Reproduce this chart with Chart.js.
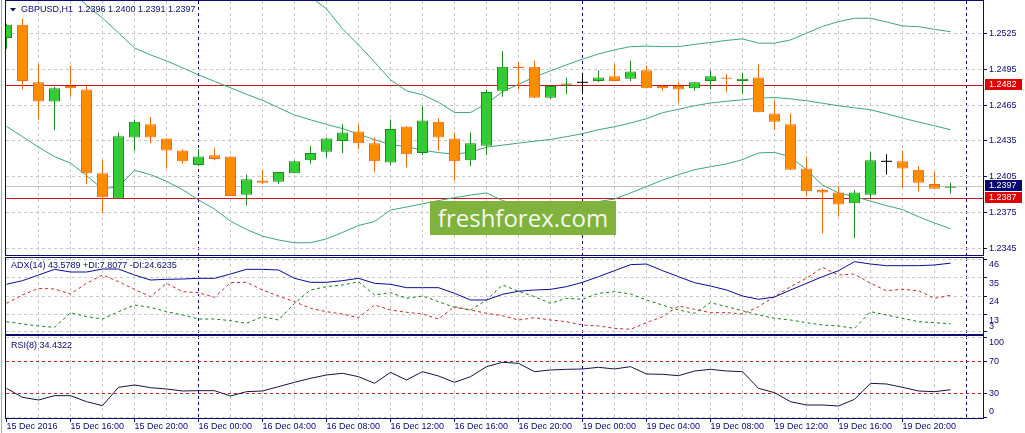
<!DOCTYPE html>
<html>
<head>
<meta charset="utf-8">
<title>GBPUSD H1</title>
<script src="https://cdn.jsdelivr.net/npm/chart.js@4.4.1/dist/chart.umd.min.js"></script>
<style>
  html, body { margin: 0; padding: 0; background: #fff; }
  body { position: relative; width: 1025px; height: 433px; overflow: hidden; }
  canvas { position: absolute; left: 0; }
  #edge { position: absolute; left: 1px; top: 0; width: 1px; height: 433px; background: #a8a8a8; }
  #wm { position: absolute; left: 430px; top: 201px; width: 186px; height: 34px;
        background: #80b23e; color: #f6f9f0; font: 24px "Open Sans", sans-serif;
        line-height: 33px; text-align: center; }
</style>
</head>
<body>
<div id="edge"></div>
<canvas id="priceChart" width="1025" height="257" style="top:0"></canvas>
<canvas id="adxChart" width="1025" height="80" style="top:256px"></canvas>
<canvas id="rsiChart" width="1025" height="98" style="top:335px"></canvas>
<div id="wm">freshforex.com</div>
<script>
// GBPUSD H1, 60 bars: 15 Dec 12:00 .. 19 Dec 23:00
const timeLabels = ['15 Dec 2016', '15 Dec 16:00', '15 Dec 20:00', '16 Dec 00:00', '16 Dec 04:00',
  '16 Dec 08:00', '16 Dec 12:00', '16 Dec 16:00', '16 Dec 20:00', '19 Dec 00:00', '19 Dec 04:00',
  '19 Dec 08:00', '19 Dec 12:00', '19 Dec 16:00', '19 Dec 20:00'];
const dayBreaks = [12, 36, 60];

const open = [1.2521,1.2532,1.2484,1.2468,1.2481,1.2478,1.2408,1.2387,1.2438,1.2449,
  1.2437,1.2427,1.2415,1.2423,1.2422,1.2390,1.2402,1.2401,1.2408,1.2419,
  1.2426,1.2435,1.2443,1.2433,1.2417,1.2447,1.2425,1.2451,1.2437,1.2419,
  1.2431,1.2477,1.2497,1.2497,1.2471,1.2482,1.2484,1.2485,1.2489,1.2487,
  1.2494,1.2481,1.2481,1.2479,1.2485,1.2488,1.2485,1.2488,1.2458,1.2449,
  1.2412,1.2394,1.2392,1.2383,1.2390,1.2418,1.2418,1.2411,1.2399,1.2396];
const high = [1.2533,1.2537,1.2499,1.2480,1.2498,1.2481,1.2419,1.2442,1.2453,1.2455,
  1.2437,1.2428,1.2428,1.2429,1.2422,1.2407,1.2411,1.2409,1.2419,1.2431,
  1.2438,1.2449,1.2449,1.2438,1.2453,1.2447,1.2464,1.2454,1.2442,1.2442,
  1.2478,1.2510,1.2501,1.2502,1.2481,1.2488,1.2492,1.2494,1.2499,1.2502,
  1.2498,1.2482,1.2484,1.2484,1.2494,1.2491,1.2492,1.2499,1.2469,1.2458,
  1.2422,1.2395,1.2397,1.2394,1.2426,1.2424,1.2427,1.2414,1.2409,1.2400];
const low = [1.2512,1.2478,1.2453,1.2444,1.2472,1.2399,1.2375,1.2387,1.2427,1.2433,
  1.2412,1.2416,1.2414,1.2419,1.2389,1.2381,1.2399,1.2399,1.2408,1.2416,
  1.2421,1.2425,1.2428,1.2409,1.2415,1.2413,1.2423,1.2427,1.2402,1.2414,
  1.2423,1.2472,1.2478,1.2471,1.2470,1.2474,1.2474,1.2484,1.2485,1.2485,
  1.2479,1.2477,1.2467,1.2477,1.2478,1.2476,1.2474,1.2459,1.2444,1.2411,
  1.2389,1.2358,1.2372,1.2354,1.2387,1.2407,1.2396,1.2393,1.2395,1.2391];
const close = [1.2532,1.2485,1.2468,1.2479,1.2479,1.2408,1.2388,1.2439,1.2451,1.2438,
  1.2427,1.2418,1.2422,1.2420,1.2389,1.2403,1.2400,1.2409,1.2418,1.2425,
  1.2437,1.2442,1.2433,1.2418,1.2445,1.2424,1.2452,1.2438,1.2418,1.2433,
  1.2476,1.2497,1.2496,1.2471,1.2481,1.2483,1.2484,1.2488,1.2485,1.2493,
  1.2479,1.2479,1.2478,1.2484,1.2489,1.2487,1.2487,1.2459,1.2451,1.2411,
  1.2393,1.2392,1.2382,1.2392,1.2419,1.2418,1.2412,1.2400,1.2395,1.2397];

// Bollinger bands
const bbUpper = [1.27668,1.2752,1.27374,1.27221,1.27041,1.26911,1.26806,1.26537,1.2615,1.26069,
  1.26025,1.25978,1.25948,1.25915,1.25908,1.25869,1.25825,1.25732,1.25633,1.25555,
  1.25453,1.25286,1.25153,1.2501,1.24861,1.24769,1.24736,1.24673,1.24588,1.24588,
  1.24661,1.24761,1.24823,1.24886,1.24936,1.24986,1.25033,1.25077,1.25111,1.25138,
  1.25142,1.25138,1.25138,1.25157,1.25173,1.2519,1.25203,1.25167,1.25167,1.25194,
  1.2525,1.25307,1.25347,1.25375,1.25375,1.25344,1.25311,1.25305,1.25282,1.25263];
const bbMid = [1.2607,1.25953,1.25836,1.2572,1.25603,1.25486,1.25377,1.25253,1.25127,1.25069,
  1.25019,1.24961,1.24902,1.24848,1.24794,1.2474,1.2469,1.24628,1.24567,1.24527,
  1.24488,1.24453,1.24407,1.24361,1.24319,1.24303,1.24273,1.24253,1.2424,1.24257,
  1.24298,1.24315,1.24332,1.24348,1.24363,1.24386,1.24411,1.24444,1.24469,1.245,
  1.24536,1.24586,1.24615,1.24644,1.24667,1.24682,1.24694,1.24708,1.24713,1.24702,
  1.24686,1.24665,1.24644,1.24627,1.24611,1.24577,1.24541,1.24508,1.24477,1.24444];
const bbLower = [1.24472,1.24386,1.24298,1.24219,1.24165,1.24061,1.23948,1.23969,1.24105,1.24069,
  1.24013,1.23944,1.23857,1.23782,1.2368,1.23611,1.23555,1.23523,1.235,1.235,
  1.23532,1.23586,1.23644,1.23677,1.23773,1.23798,1.23825,1.23852,1.23877,1.23898,
  1.23916,1.23852,1.23819,1.23794,1.23786,1.23794,1.2381,1.23844,1.23865,1.23916,
  1.23969,1.24023,1.24069,1.2411,1.24135,1.24158,1.24194,1.2425,1.24255,1.24217,
  1.2411,1.23982,1.23916,1.23887,1.23847,1.2381,1.23777,1.23717,1.23665,1.23617];

// ADX(14)
const adx = [31.09,33.25,36.59,39.94,38.36,38.36,40.13,40.13,36.59,33.64,
  34.04,34.23,34.63,34.63,37.18,39.94,39.94,39.54,34.63,32.27,
  32.27,33.25,34.63,31.68,31.09,29.12,29.12,29.12,25.78,21.84,
  21.84,25.19,27.0,27.74,28.14,29.71,32.27,35.61,39.15,42.69,
  43.08,39.15,35.61,32.07,30.1,27.74,24.2,22.24,23.6,27.74,
  31.68,35.61,39.15,44.46,43.08,42.1,42.1,42.1,42.49,43.5789];
const plusDI = [9.06,7.68,6.5,5.72,14.37,12.01,10.63,14.96,18.89,17.52,
  14.96,13.0,10.63,10.63,9.65,8.08,12.01,10.04,19.88,27.74,
  29.71,30.69,32.66,24.79,26.17,22.83,24.2,20.86,17.52,15.94,
  21.84,30.69,27.0,23.81,19.88,22.83,22.24,25.78,26.76,25.38,
  21.84,18.89,15.94,13.98,20.27,17.91,15.55,13.0,11.03,10.04,
  8.47,7.09,6.5,5.13,14.96,13.0,11.03,9.06,8.47,7.8077];
const minusDI = [19.88,24.79,28.73,28.33,25.38,31.68,36.59,32.66,28.14,23.81,
  31.68,26.76,26.17,23.42,32.07,32.27,27.74,24.2,20.86,16.93,
  14.96,13.58,11.42,18.89,15.94,14.57,13.58,10.63,17.91,15.94,
  13.98,12.6,10.04,11.42,10.04,9.06,7.09,6.5,5.13,4.54,
  8.47,12.01,18.3,16.34,14.37,14.37,13.58,17.91,23.81,29.71,
  34.63,41.12,36.59,37.18,31.68,27.35,28.14,27.35,22.83,24.6235];

// RSI(8)
const rsi = [36.21,24.96,21.63,27.04,27.04,19.54,14.54,37.46,40.38,37.04,
  35.38,32.88,33.29,33.29,26.63,32.04,32.88,38.29,43.71,48.71,
  52.88,54.96,50.79,42.46,56.21,46.63,57.04,51.63,43.71,50.79,
  63.29,68.71,67.46,57.04,59.13,59.96,60.38,62.46,60.38,63.29,
  54.13,53.71,52.04,57.88,59.96,57.88,57.04,36.21,30.79,19.54,
  15.38,15.38,14.13,22.46,42.46,41.63,37.46,32.88,32.04,34.4322];

const priceTicks = [1.2525, 1.2495, 1.2465, 1.2435, 1.2405, 1.2375, 1.2345];
const adxTicks = [46, 35, 24, 13, 3];
const rsiTicks = [100, 70, 30, 0];
const rsiLevels = [70, 30];
const priceLines = [1.2482, 1.2387];

const FONT = { family: '"Liberation Sans", sans-serif', size: 9 };
const CANVAS_FONT = '9px "Liberation Sans"';
const NAVY = '#0b0b70';
const GRID = '#c8c8c8';
const BULL = '#32cd32', BULL_EDGE = '#1e8c1e';
const BEAR = '#ff8c00', BEAR_EDGE = '#f26a0c';
const BAND = '#3aa878';

const bars = open.map((_, i) => i);
const last = bars.length - 1;
const isDoji = i => open[i] === close[i];
const isUp = i => close[i] > open[i];
const bodyIdx = bars.filter(i => !isDoji(i));
const dojiIdx = bars.filter(isDoji);
const pts = arr => bars.map(i => ({ x: i, y: arr[i] }));

function xAxis(withLabels) {
  return {
    type: 'linear', min: -0.03125, max: 61.03125, offset: false,
    afterBuildTicks: s => {
      const t = [];
      for (let v = 0; v <= 60; v += 2) t.push({ value: v });
      s.ticks = t;
    },
    afterFit: s => { s.height = withLabels ? 15 : 0; s.paddingLeft = 0; s.paddingRight = 0; },
    grid: {
      offset: false,
      color: c => c.tick.value === 0 ? 'rgba(0,0,0,0)' : (dayBreaks.includes(c.tick.value) ? NAVY : GRID),
      drawTicks: withLabels,
      tickLength: 4,
      tickBorderDash: [],
      tickColor: c => (c.tick.value % 4 === 0 && c.tick.value / 4 < timeLabels.length) ? NAVY : 'rgba(0,0,0,0)'
    },
    border: { display: false, dash: [3, 3] },
    ticks: {
      display: withLabels, autoSkip: false, maxRotation: 0, minRotation: 0,
      align: 'start', padding: -1, color: NAVY, font: FONT,
      callback: v => (v % 4 === 0 && v / 4 < timeLabels.length) ? timeLabels[v / 4] : ''
    }
  };
}

function yAxis(min, max, ticks, fmt) {
  return {
    position: 'right', min, max, beginAtZero: false,
    afterBuildTicks: s => { s.ticks = ticks.map(v => ({ value: v })); },
    afterFit: s => { s.width = 42; s.paddingTop = 0; s.paddingBottom = 0; },
    grid: { color: GRID, tickColor: NAVY, tickLength: 4, tickBorderDash: [] },
    border: { display: false, dash: [3, 3] },
    ticks: { color: NAVY, font: FONT, padding: 2, autoSkip: false, callback: fmt }
  };
}

function baseOptions(pad, xs, ys) {
  return {
    responsive: false, animation: false, devicePixelRatio: 1, events: [],
    layout: { padding: pad, autoPadding: false },
    plugins: { legend: { display: false }, tooltip: { enabled: false } },
    scales: { x: xs, y: ys }
  };
}

function frame(chart) {
  const a = chart.chartArea, ctx = chart.ctx;
  ctx.save();
  ctx.strokeStyle = NAVY;
  ctx.lineWidth = 1;
  ctx.strokeRect(a.left - 0.5, a.top - 0.5, a.right - a.left + 1, a.bottom - a.top + 1);
  ctx.restore();
}

function hLine(chart, value, color, dash) {
  const a = chart.chartArea, ctx = chart.ctx;
  const y = Math.round(chart.scales.y.getPixelForValue(value)) + 0.5;
  ctx.save();
  ctx.strokeStyle = color;
  ctx.lineWidth = 1;
  ctx.setLineDash(dash || []);
  ctx.beginPath();
  ctx.moveTo(a.left, y);
  ctx.lineTo(a.right, y);
  ctx.stroke();
  ctx.restore();
}

function caption(chart, text, x, y, color) {
  const ctx = chart.ctx;
  ctx.save();
  ctx.font = CANVAS_FONT;
  ctx.fillStyle = color || NAVY;
  ctx.textBaseline = 'middle';
  ctx.fillText(text, x, y);
  ctx.restore();
}

// price window
const priceDecor = {
  id: 'priceDecor',
  beforeDatasetsDraw(chart) {
    hLine(chart, close[last], '#c4c4c4');
    priceLines.forEach(v => hLine(chart, v, '#d01414'));
  },
  afterDraw(chart) {
    const ctx = chart.ctx, ys = chart.scales.y;
    frame(chart);
    ctx.save();
    ctx.fillStyle = NAVY;
    ctx.beginPath();
    ctx.moveTo(10, 8); ctx.lineTo(16, 8); ctx.lineTo(13, 11.5);
    ctx.closePath();
    ctx.fill();
    ctx.restore();
    caption(chart, 'GBPUSD,H1  ' + [open[last], high[last], low[last], close[last]].map(v => v.toFixed(4)).join(' '), 21, 9.5);
    const boxes = [[priceLines[0], '#e00000'], [close[last], '#08086e'], [priceLines[1], '#e00000']];
    boxes.forEach(([v, bg]) => {
      const y = Math.round(ys.getPixelForValue(v));
      ctx.save();
      ctx.fillStyle = bg;
      ctx.fillRect(985, y - 6, 37, 11);
      ctx.restore();
      caption(chart, v.toFixed(4), 989, y - 0.5, '#ffffff');
    });
  }
};

new Chart(document.getElementById('priceChart'), {
  type: 'bar',
  data: {
    datasets: [
      { type: 'bar', order: 0, grouped: false, barThickness: 11, inflateAmount: 0,
        data: bodyIdx.map(i => ({ x: i, y: [open[i], close[i]] })),
        backgroundColor: bodyIdx.map(i => isUp(i) ? BULL : BEAR),
        borderColor: bodyIdx.map(i => isUp(i) ? BULL_EDGE : BEAR_EDGE),
        borderWidth: 1, borderSkipped: false },
      { type: 'scatter', order: 0,
        data: dojiIdx.map(i => ({ x: i, y: open[i] })),
        pointStyle: 'line', pointRadius: 5.5, borderColor: '#000', borderWidth: 1 },
      { type: 'bar', order: 1, grouped: false, barThickness: 1, inflateAmount: 0,
        data: bars.map(i => ({ x: i, y: [low[i], high[i]] })),
        backgroundColor: bars.map(i => isDoji(i) ? '#000' : (isUp(i) ? BULL_EDGE : BEAR_EDGE)),
        borderWidth: 0 },
      { type: 'line', order: 2, data: pts(bbUpper), borderColor: BAND, borderWidth: 1, pointRadius: 0, tension: 0 },
      { type: 'line', order: 2, data: pts(bbMid), borderColor: BAND, borderWidth: 1, pointRadius: 0, tension: 0 },
      { type: 'line', order: 2, data: pts(bbLower), borderColor: BAND, borderWidth: 1, pointRadius: 0, tension: 0 }
    ]
  },
  options: baseOptions({ left: 6, right: 0, top: 1, bottom: 2 }, xAxis(false),
    yAxis(1.233975, 1.255192, priceTicks, v => v.toFixed(4))),
  plugins: [priceDecor]
});

// ADX window
new Chart(document.getElementById('adxChart'), {
  type: 'line',
  data: {
    datasets: [
      { data: pts(adx), borderColor: '#0a0a9a', borderWidth: 1, pointRadius: 0, tension: 0 },
      { data: pts(plusDI), borderColor: '#168016', borderWidth: 1, borderDash: [3, 3], pointRadius: 0, tension: 0 },
      { data: pts(minusDI), borderColor: '#d02424', borderWidth: 1, borderDash: [3, 3], pointRadius: 0, tension: 0 }
    ]
  },
  options: baseOptions({ left: 6, right: 0, top: 2, bottom: 2 }, xAxis(false),
    yAxis(1.78, 46.62, adxTicks, v => v === 3 ? ['3', ''] : ['', String(v)])),
  plugins: [{
    id: 'adxDecor',
    afterDraw(chart) {
      frame(chart);
      caption(chart, 'ADX(14) ' + adx[last].toFixed(4) + ' +DI:' + plusDI[last].toFixed(4) +
        ' -DI:' + minusDI[last].toFixed(4), 11, 10);
    }
  }]
});

// RSI window
new Chart(document.getElementById('rsiChart'), {
  type: 'line',
  data: {
    datasets: [
      { data: pts(rsi), borderColor: '#141440', borderWidth: 1, pointRadius: 0, tension: 0 }
    ]
  },
  options: baseOptions({ left: 6, right: 0, top: 1, bottom: 0 }, xAxis(true),
    yAxis(-0.875, 101.6, rsiTicks, v => v === 100 ? ['', '100'] : (v === 0 ? ['0', ''] : String(v)))),
  plugins: [{
    id: 'rsiDecor',
    beforeDatasetsDraw(chart) {
      rsiLevels.forEach(v => hLine(chart, v, '#c81e1e', [3, 3]));
    },
    afterDraw(chart) {
      frame(chart);
      caption(chart, 'RSI(8) ' + rsi[last].toFixed(4), 11, 11);
    }
  }]
});
</script>
</body>
</html>
